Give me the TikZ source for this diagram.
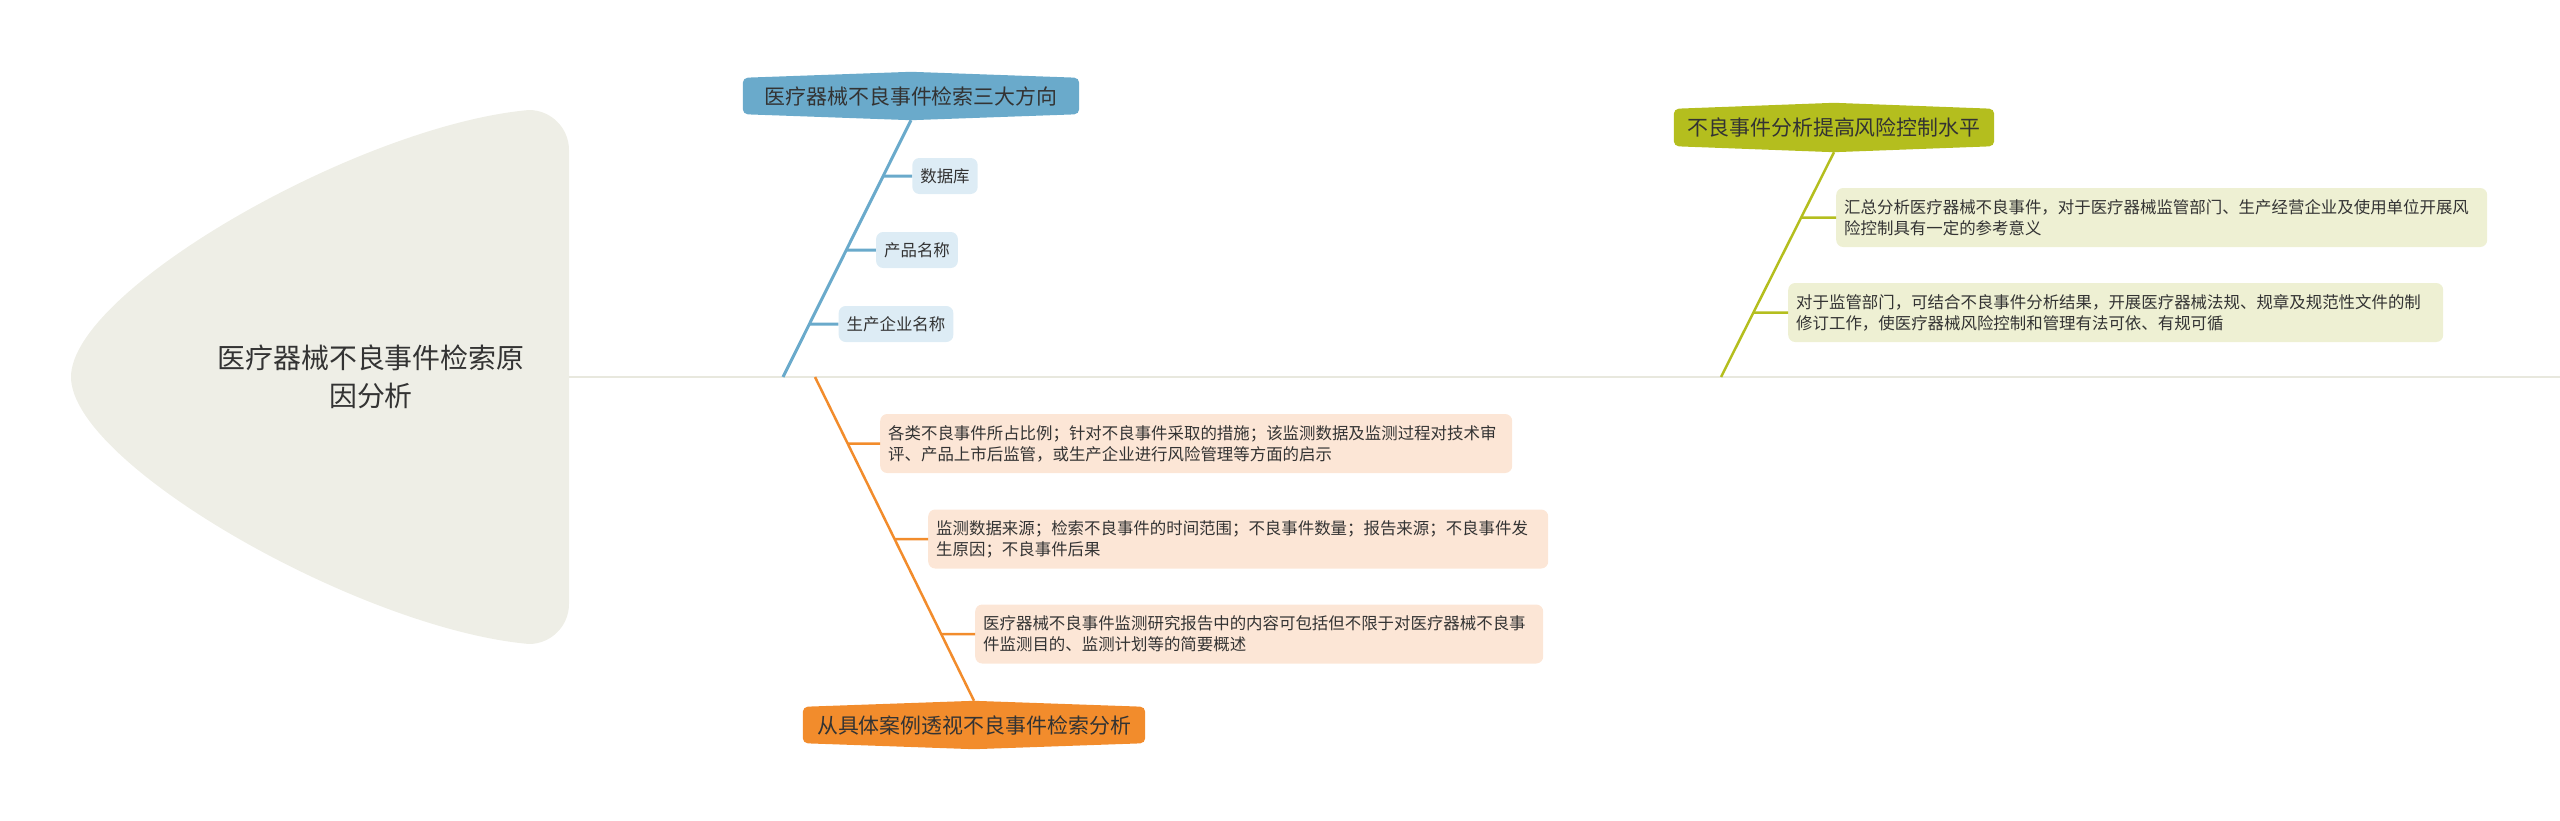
\documentclass[tikz,border=0pt]{standalone}
\usepackage{fontspec}
\newfontfamily\cjk{Noto Sans CJK SC}
\usetikzlibrary{calc,backgrounds}
\definecolor{blobfill}{HTML}{EEEEE6}
\definecolor{trunkc}{HTML}{E8E8DE}
\definecolor{bluec}{HTML}{6AAACB}
\definecolor{blueleaf}{HTML}{DDECF5}
\definecolor{orangec}{HTML}{F28C2C}
\definecolor{orangeleaf}{HTML}{FCE6D6}
\definecolor{greenc}{HTML}{B4BE1E}
\definecolor{greenleaf}{HTML}{EEF0D3}
\definecolor{txt}{HTML}{333333}
\newcommand\hexfill[2]{\fill[#2, rounded corners=5bp] (#1.west) -- (#1.north west) -- ([yshift=6bp]#1.north) -- (#1.north east) -- (#1.south east) -- ([yshift=-6bp]#1.south) -- (#1.south west) -- cycle;}
\tikzset{
  mainnode/.style={inner sep=0pt, minimum height=36bp, text=txt, font=\cjk\fontsize{21}{25}\selectfont},
  leafnode/.style={rounded corners=7bp, inner xsep=8bp, inner ysep=0pt, minimum height=36bp, text=txt, font=\cjk\fontsize{16.5}{21}\selectfont},
  textleaf/.style={leafnode, minimum height=59bp, align=left, anchor=west},
  rootnode/.style={align=center, text=txt, font=\cjk\fontsize{28}{38}\selectfont},
  trunk/.style={draw=trunkc, line width=2bp},
  bluebr/.style={draw=bluec, line width=3bp},
  orangebr/.style={draw=orangec, line width=2.5bp},
  greenbr/.style={draw=greenc, line width=2.5bp},
}
\begin{document}
\begin{tikzpicture}[x=1bp, y=-1bp]
\useasboundingbox (0,0) rectangle (2560,821);
% central blob
\fill[blobfill] (569,377) -- (569,150) .. controls (569,128) and (551,110) .. (529,110)
  .. controls (360,125) and (71,290) .. (71,377)
  .. controls (71,464) and (360,629) .. (529,644)
  .. controls (551,644) and (569,626) .. (569,604) -- cycle;
\node[rootnode] (root) at (371,377) {医疗器械不良事件检索原\\因分析};
\coordinate (blobR) at (569,377);
\coordinate (trunkend) at (2560,377);
\draw[trunk] (blobR) -- (trunkend);

% blue branch
\node[mainnode, minimum width=336bp] (blue) at (911,96) {医疗器械不良事件检索三大方向};
\coordinate (bluebot) at ([yshift=-6bp]blue.south);
\coordinate (b0) at (783,377);
\node[leafnode, fill=blueleaf] (s1) at (945,176) {数据库};
\node[leafnode, fill=blueleaf] (s2) at (917,250) {产品名称};
\node[leafnode, fill=blueleaf] (s3) at (896,324) {生产企业名称};
\draw[bluebr] (bluebot) -- (b0);
\foreach \s in {s1,s2,s3}{
  \draw[bluebr] (intersection of bluebot--b0 and \s.west--\s.east) -- (\s.west);
}

% orange branch
\node[mainnode, minimum width=342bp] (orange) at (974,725) {从具体案例透视不良事件检索分析};
\coordinate (orangetop) at ([yshift=6bp]orange.north);
\coordinate (o0) at (815,377);
\node[textleaf, fill=orangeleaf, text width=616bp] (o1) at (880,443.5) {各类不良事件所占比例；针对不良事件采取的措施；该监测数据及监测过程对技术审\\评、产品上市后监管，或生产企业进行风险管理等方面的启示};
\node[textleaf, fill=orangeleaf, text width=604bp] (o2) at (928,539) {监测数据来源；检索不良事件的时间范围；不良事件数量；报告来源；不良事件发\\生原因；不良事件后果};
\node[textleaf, fill=orangeleaf, text width=552bp] (o3) at (975,634) {医疗器械不良事件监测研究报告中的内容可包括但不限于对医疗器械不良事\\件监测目的、监测计划等的简要概述};
\draw[orangebr] (o0) -- (orangetop);
\foreach \s in {o1,o2,o3}{
  \draw[orangebr] (intersection of o0--orangetop and \s.west--\s.east) -- (\s.west);
}

% green branch
\node[mainnode, minimum width=320bp, minimum height=37bp] (green) at (1834,127.5) {不良事件分析提高风险控制水平};
\coordinate (greenbot) at ([yshift=-6bp]green.south);
\coordinate (g0) at (1721,377);
\node[textleaf, fill=greenleaf, text width=635bp] (g1) at (1836,217.5) {汇总分析医疗器械不良事件，对于医疗器械监管部门、生产经营企业及使用单位开展风\\险控制具有一定的参考意义};
\node[textleaf, fill=greenleaf, text width=639bp] (g2) at (1788,312.5) {对于监管部门，可结合不良事件分析结果，开展医疗器械法规、规章及规范性文件的制\\修订工作，使医疗器械风险控制和管理有法可依、有规可循};
\draw[greenbr] (greenbot) -- (g0);
\foreach \s in {g1,g2}{
  \draw[greenbr] (intersection of greenbot--g0 and \s.west--\s.east) -- (\s.west);
}

\begin{scope}[on background layer]
  \hexfill{blue}{bluec}
  \hexfill{orange}{orangec}
  \hexfill{green}{greenc}
\end{scope}
\end{tikzpicture}
\end{document}
